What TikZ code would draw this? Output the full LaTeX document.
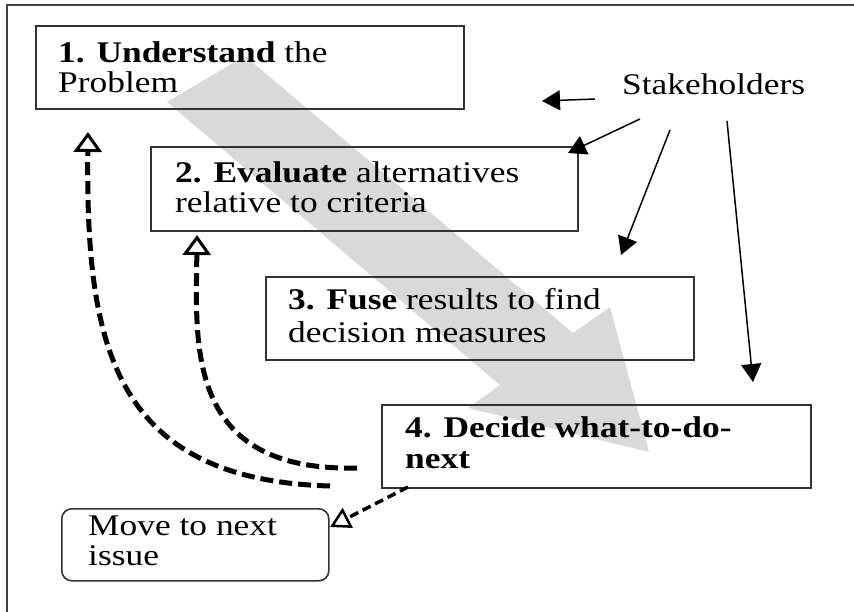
\documentclass[tikz,border=0pt]{standalone}
\usepackage{fontspec}
\setmainfont{Liberation Serif}[FakeStretch=1.18]
\usetikzlibrary{arrows.meta}
\begin{document}
\begin{tikzpicture}[x=1pt,y=-1pt,
  box/.style={draw=black!80, line width=1.6pt, anchor=north west, inner sep=0pt},
  txt/.style={anchor=base west, inner sep=0pt, font=\fontsize{30}{31}\selectfont},
  sarrow/.style={line width=1.5pt, -{Triangle[length=18pt,width=20pt]}},
  backarrow/.style={line width=5pt, dash pattern=on 13pt off 6pt,
    -{Triangle[open,length=20pt,width=28pt,line width=3pt]}},
  nextarrow/.style={line width=3.5pt, dash pattern=on 9pt off 5pt,
    -{Triangle[open,length=20pt,width=22pt,line width=2.5pt]}}]
\useasboundingbox (0,0) rectangle (854,612);
\fill[white] (0,0) rectangle (854,612);
% frame (top and left only)
\draw[line width=2pt, black!75] (7,612) -- (7,5) -- (854,5);
% big gray process arrow
\fill[black!15] (245,56) -- (573,333) -- (610,307) -- (649,452) -- (468,408) -- (500,385) -- (167,102) -- cycle;
% boxes
\node[box, minimum width=428pt, minimum height=83pt] (b1) at (35,25) {};
\node[box, minimum width=427pt, minimum height=84pt] (b2) at (150,146) {};
\node[box, minimum width=428pt, minimum height=83pt] (b3) at (265,276) {};
\node[box, minimum width=429pt, minimum height=83pt] (b4) at (381,404) {};
\node[box, rounded corners=10pt, minimum width=267pt, minimum height=72pt] (mv) at (61,508) {};
% texts
\node[txt] (t1a) at (58,63) {\textbf{1. Understand} the};
\node[txt] (t1b) at (58,93) {Problem};
\node[txt] (t2a) at (175,183) {\textbf{2. Evaluate} alternatives};
\node[txt] (t2b) at (175,213) {relative to criteria};
\node[txt] (t3a) at (288,310) {\textbf{3. Fuse} results to find};
\node[txt] (t3b) at (288,342) {decision measures};
\node[txt] (t4a) at (405,437) {\textbf{4. Decide what-to-do-}};
\node[txt] (t4b) at (405,468) {\textbf{next}};
\node[txt] (tm1) at (88,535) {Move to next};
\node[txt] (tm2) at (88,565) {issue};
\node[txt] (stk) at (622,95) {Stakeholders};
% stakeholder arrows
\coordinate (s1a) at (595,99);  \coordinate (s1b) at (542,101);
\coordinate (s2a) at (640,119); \coordinate (s2b) at (568,153);
\coordinate (s3a) at (670,130); \coordinate (s3b) at (621,255);
\coordinate (s4a) at (727,121); \coordinate (s4b) at (753,382);
\draw[sarrow] (s1a) -- (s1b);
\draw[sarrow] (s2a) -- (s2b);
\draw[sarrow] (s3a) -- (s3b);
\draw[sarrow] (s4a) -- (s4b);
% feedback arrows
\coordinate (f1a) at (330,486); \coordinate (f1b) at (88,132);
\coordinate (f2a) at (357,468); \coordinate (f2b) at (197,235);
\draw[backarrow] (f1a) .. controls (110,480) and (86,340) .. (f1b);
\draw[backarrow] (f2a) .. controls (185,472) and (196,345) .. (f2b);
% to next issue
\coordinate (n1a) at (408,487); \coordinate (n1b) at (330,527);
\draw[nextarrow] (n1a) -- (n1b);
\end{tikzpicture}
\end{document}
